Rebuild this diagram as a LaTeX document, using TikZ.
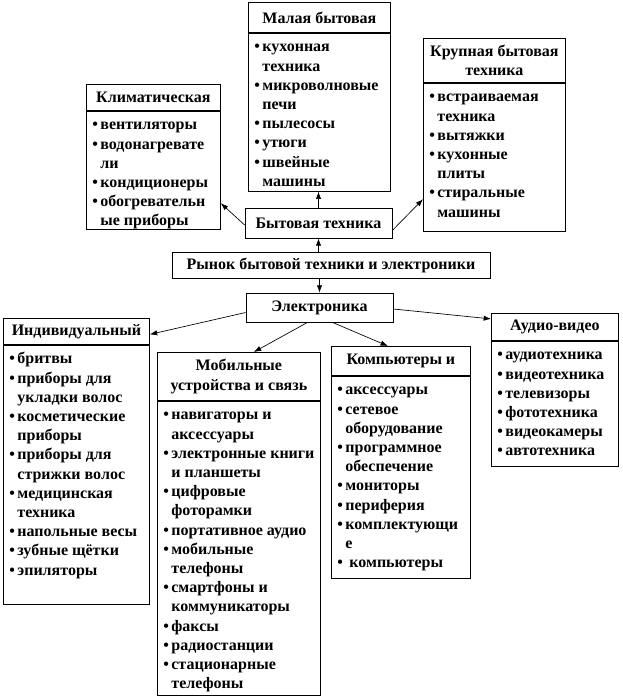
\documentclass[tikz,border=0pt]{standalone}
\usepackage{fontspec}
\setmainfont{Liberation Serif}
\usepackage{tikz}
\usetikzlibrary{arrows.meta,positioning,calc}

\newcommand{\bitem}{\strut\makebox[6pt][l]{\textbullet}}
\newcommand{\bcont}{\strut\hspace*{6pt}}
\newcommand{\itemsbox}[3]{\parbox[c][#2][t]{#1}{\leftskip=4.5pt\hyphenpenalty=10000\vspace*{4pt}#3}}

\begin{document}
\begin{tikzpicture}[x=0.75pt, y=-0.75pt,
    font=\fontsize{12}{14.4}\selectfont\bfseries,
    box/.style={draw, line width=0.6pt, inner sep=0pt, align=center},
    head/.style={box, anchor=north west},
    items/.style={box, below=0pt of #1},
    >={Latex[length=5.5pt,width=4pt]}]
    \useasboundingbox (0,0) rectangle (623,699);

    % Middle column
    \node[box, minimum width=110.25pt, minimum height=22.5pt] (byt) at (318.5,223) {Бытовая техника};
    \node[box, minimum width=238.5pt, minimum height=19.5pt] (rynok) at (331,265) {Рынок бытовой техники и электроники};
    \node[box, minimum width=110.25pt, minimum height=21.75pt] (elektr) at (319.5,307.5) {Электроника};

    % Household appliances
    \node[head, minimum width=100.5pt, minimum height=19.5pt] (klim) at (86,84) {Климатическая};
    \node[items=klim] (klimL) {\itemsbox{100.5pt}{88.5pt}{%
        \bitem вентиляторы\\
        \bitem водонагревате\\
        \bcont ли\\
        \bitem кондиционеры\\
        \bitem обогревательн\\
        \bcont ые приборы}};

    \node[head, minimum width=106.5pt, minimum height=22.5pt] (malaya) at (248,2) {Малая бытовая};
    \node[items=malaya] (malayaL) {\itemsbox{106.5pt}{118.5pt}{%
        \bitem кухонная\\
        \bcont техника\\
        \bitem микроволновые\\
        \bcont печи\\
        \bitem пылесосы\\
        \bitem утюги\\
        \bitem швейные\\
        \bcont машины}};

    \node[head, minimum width=106.5pt, minimum height=33pt] (krupn) at (423,38) {Крупная бытовая\\техника};
    \node[items=krupn] (krupnL) {\itemsbox{106.5pt}{111pt}{%
        \bitem встраиваемая\\
        \bcont техника\\
        \bitem вытяжки\\
        \bitem кухонные\\
        \bcont плиты\\
        \bitem стиральные\\
        \bcont машины}};

    % Electronics
    \node[head, minimum width=109.5pt, minimum height=19.5pt] (indiv) at (3,318) {Индивидуальный};
    \node[items=indiv] (indivL) {\itemsbox{109.5pt}{194.25pt}{%
        \bitem бритвы\\
        \bitem приборы для\\
        \bcont укладки волос\\
        \bitem косметические\\
        \bcont приборы\\
        \bitem приборы для\\
        \bcont стрижки волос\\
        \bitem медицинская\\
        \bcont техника\\
        \bitem напольные весы\\
        \bitem зубные щётки\\
        \bitem эпиляторы}};

    \node[head, minimum width=122.25pt, minimum height=36pt] (mobil) at (157,352) {Мобильные\\устройства и связь};
    \node[items=mobil] (mobilL) {\itemsbox{122.25pt}{220.5pt}{%
        \bitem навигаторы и\\
        \bcont аксессуары\\
        \bitem электронные книги\\
        \bcont и планшеты\\
        \bitem цифровые\\
        \bcont фоторамки\\
        \bitem портативное аудио\\
        \bitem мобильные\\
        \bcont телефоны\\
        \bitem смартфоны и\\
        \bcont коммуникаторы\\
        \bitem факсы\\
        \bitem радиостанции\\
        \bitem стационарные\\
        \bcont телефоны}};

    \node[head, minimum width=104.25pt, minimum height=21.75pt] (komp) at (331,346) {Компьютеры и};
    \node[items=komp] (kompL) {\itemsbox{104.25pt}{151.5pt}{%
        \bitem аксессуары\\
        \bitem сетевое\\
        \bcont оборудование\\
        \bitem программное\\
        \bcont обеспечение\\
        \bitem мониторы\\
        \bitem периферия\\
        \bitem комплектующи\\
        \bcont е\\
        \bitem\ компьютеры}};

    \node[head, minimum width=95.25pt, minimum height=20.25pt] (audio) at (491,313) {Аудио-видео};
    \node[items=audio] (audioL) {\itemsbox{95.25pt}{93.75pt}{%
        \bitem аудиотехника\\
        \bitem видеотехника\\
        \bitem телевизоры\\
        \bitem фототехника\\
        \bitem видеокамеры\\
        \bitem автотехника}};

    % Arrows
    \draw[->, line width=0.5pt] (rynok.north -| byt.south) -- (byt.south);
    \draw[->, line width=0.5pt] (rynok.south -| elektr.north) -- (elektr.north);
    \draw[->, line width=0.5pt] (byt.north) -- (byt.north |- malayaL.south);
    \draw[->, line width=0.5pt] ($(byt.west)+(0,2)$) -- ($(klimL.east)+(0,33)$);
    \draw[->, line width=0.5pt] ($(byt.south east)+(0,-8)$) -- ($(krupnL.west)+(0,42)$);
    \draw[->, line width=0.5pt] ($(elektr.west)+(0,5)$) -- ($(indiv.east)+(0,3)$);
    \draw[->, line width=0.5pt] ($(elektr.south)+(-12,0)$) -- ($(mobil.north)+(15,0)$);
    \draw[->, line width=0.5pt] ($(elektr.south)+(13,0)$) -- ($(komp.north)+(-13,0)$);
    \draw[->, line width=0.5pt] ($(elektr.east)+(0,1.5)$) -- ($(audio.west)+(0,-8)$);
\end{tikzpicture}
\end{document}
